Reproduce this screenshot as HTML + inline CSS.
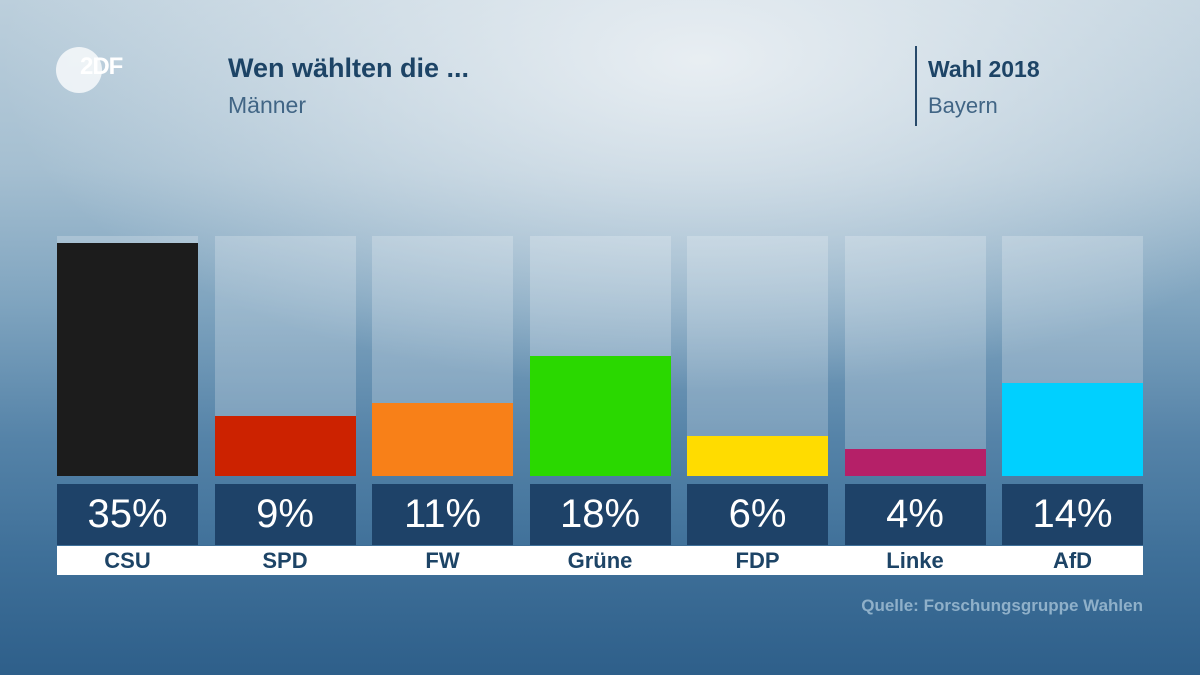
<!DOCTYPE html>
<html><head><meta charset="utf-8"><style>
body{margin:0;width:1200px;height:675px;overflow:hidden;font-family:"Liberation Sans",sans-serif;}
#bg{position:absolute;left:0;top:0;width:1200px;height:675px;
background:radial-gradient(ellipse 700px 330px at 700px 60px,rgba(235,240,244,0.95),rgba(235,240,244,0) 100%),
linear-gradient(180deg,#bccfdc 0%,#a5bfd1 25%,#7fa4bf 45%,#5583a8 65%,#3f7099 82%,#2e5f8a 100%);}
.t{position:absolute;}
</style></head><body>
<div id="bg"></div>
<div class="t" style="left:56px;top:47px;width:46px;height:46px;border-radius:50%;background:rgba(255,255,255,0.75);"></div>
<div class="t" style="left:80px;top:53px;font-size:24px;font-weight:bold;color:#fff;letter-spacing:-1px;">2DF</div>
<div class="t" style="left:228px;top:53px;font-size:27px;font-weight:bold;color:#1d4466;">Wen wählten die ...</div>
<div class="t" style="left:228px;top:92px;font-size:23px;color:#416585;">Männer</div>
<div class="t" style="left:915px;top:46px;width:2px;height:80px;background:#27496a;"></div>
<div class="t" style="left:928px;top:56px;font-size:23px;font-weight:bold;color:#1d4466;">Wahl 2018</div>
<div class="t" style="left:928px;top:93px;font-size:22px;color:#416585;">Bayern</div>
<div class="t" style="left:57px;top:546px;width:1086px;height:29px;background:#fff;"></div>
<div class="t" style="right:57px;top:596px;font-size:17px;font-weight:bold;color:#8fb0c9;">Quelle: Forschungsgruppe Wahlen</div>
<div id="chart"></div>
<script>
const parties=["CSU","SPD","FW","Grüne","FDP","Linke","AfD"];
const values=[35,9,11,18,6,4,14];
const colors=["#1c1c1c","#cc2200","#f88018","#2ad800","#ffdc00","#b52068","#00d0ff"];
const x0=57,pitch=157.5,w=141,trackTop=236,base=476,maxV=36;
const yScale=v=>base-(v/maxV)*(base-trackTop);
const c=document.getElementById('chart');
parties.forEach((p,i)=>{
  const x=x0+i*pitch;
  const tr=document.createElement('div');
  
  
  tr.style.cssText=`position:absolute;left:${x}px;top:${trackTop}px;width:${w}px;height:${base-trackTop}px;background:rgba(255,255,255,0.22);`;
  c.appendChild(tr);
  const b=document.createElement('div');
  
  
  const top=yScale(values[i]);
  b.style.cssText=`position:absolute;left:${x}px;top:${top}px;width:${w}px;height:${base-top}px;background:${colors[i]};`;
  c.appendChild(b);
  const v=document.createElement('div');
  
  
  v.style.cssText=`position:absolute;left:${x}px;top:484px;width:${w}px;height:61px;background:#1e4268;color:#fff;font-size:40px;line-height:61px;text-align:center;`;
  v.textContent=values[i]+'%';
  c.appendChild(v);
  const l=document.createElement('div');
  
  
  l.style.cssText=`position:absolute;left:${x}px;top:546px;width:${w}px;height:29px;color:#1d4466;font-size:22px;font-weight:bold;line-height:29px;text-align:center;`;
  l.textContent=p;
  c.appendChild(l);
});
</script>
</body></html>
